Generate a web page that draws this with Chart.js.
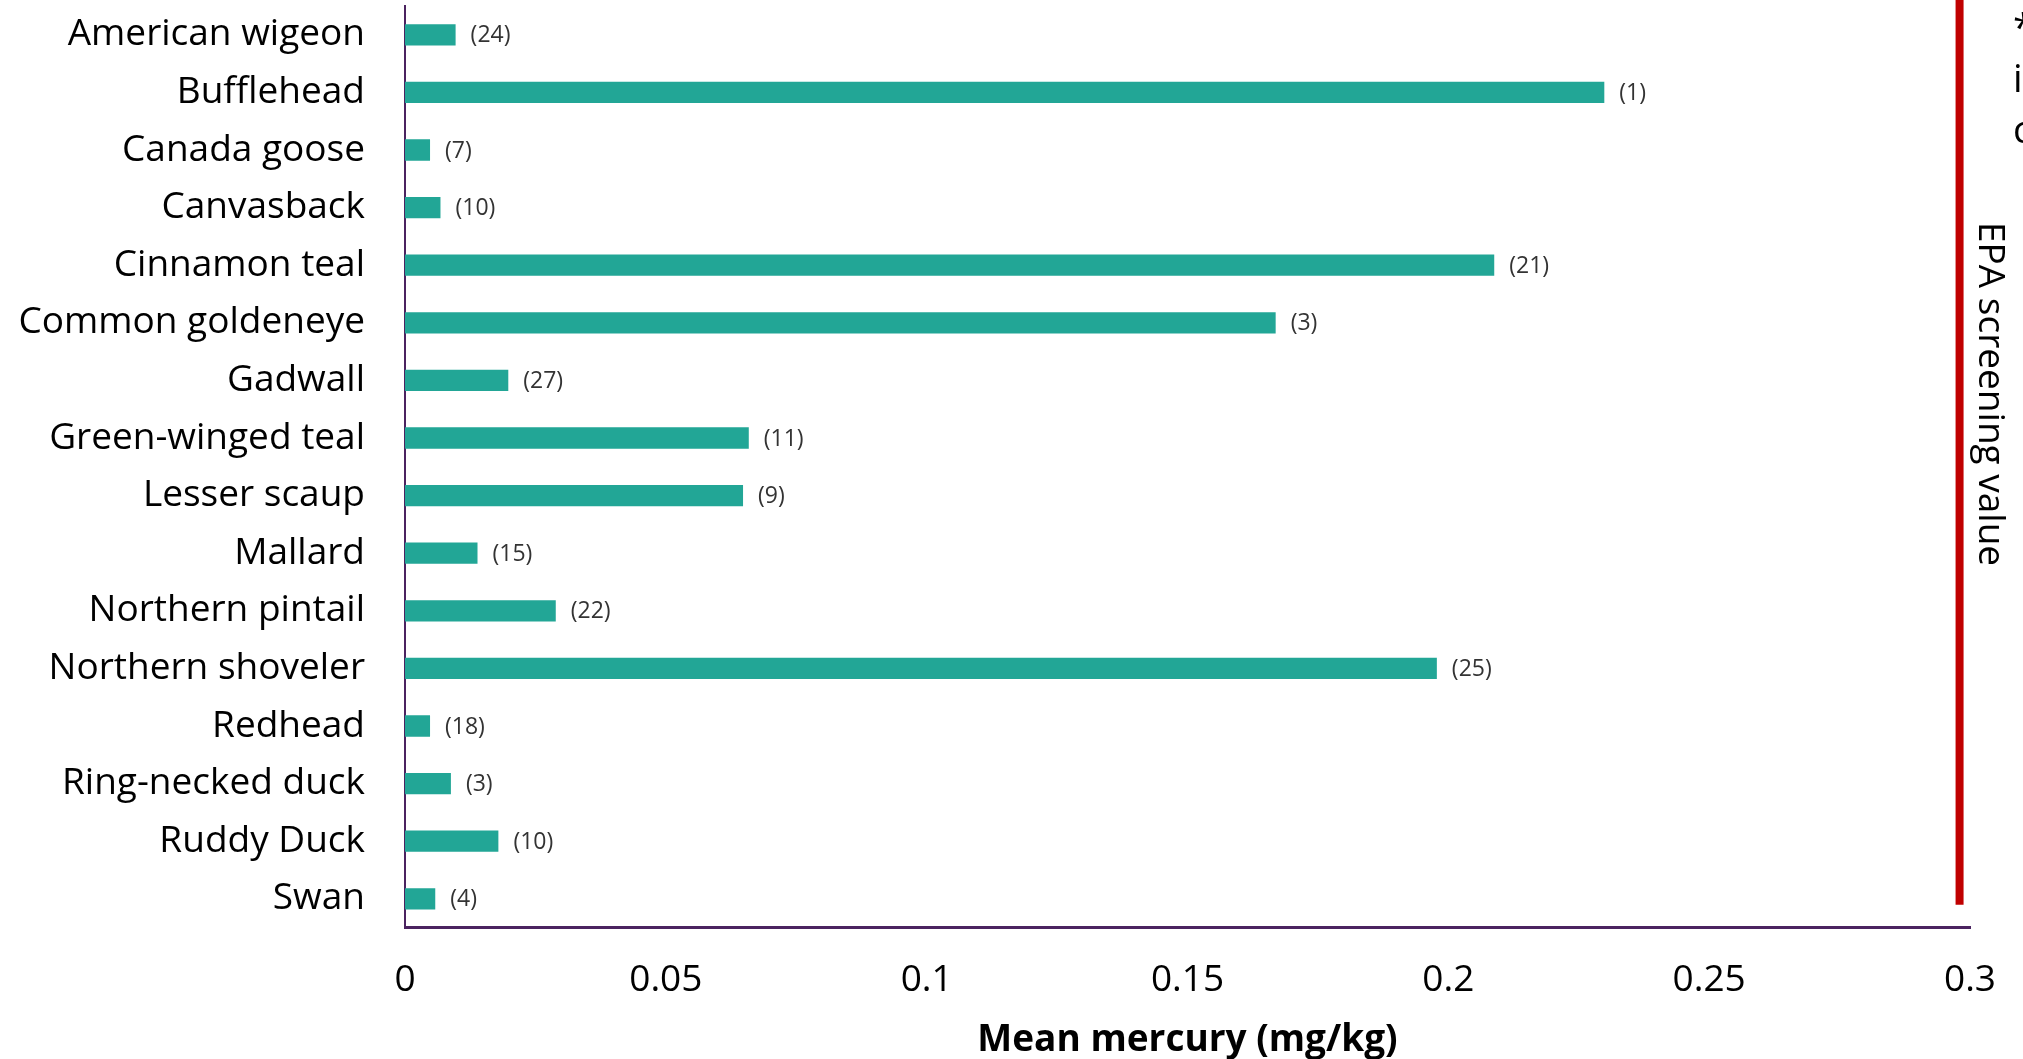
<!DOCTYPE html>
<html>
<head>
<meta charset="utf-8">
<script src="https://cdn.jsdelivr.net/npm/chart.js@4.4.0/dist/chart.umd.min.js"></script>
<style>
  body { margin: 0; background: #fff; }
  canvas { display: block; }
</style>
</head>
<body>
<canvas id="mercuryChart" width="2023" height="1059"></canvas>
<script>
const species = [
    'American wigeon', 'Bufflehead', 'Canada goose', 'Canvasback',
    'Cinnamon teal', 'Common goldeneye', 'Gadwall', 'Green-winged teal',
    'Lesser scaup', 'Mallard', 'Northern pintail', 'Northern shoveler',
    'Redhead', 'Ring-necked duck', 'Ruddy Duck', 'Swan'
];
const meanMercury = [
    0.0097, 0.2299, 0.0048, 0.0068,
    0.2088, 0.1669, 0.0198, 0.0659,
    0.0648, 0.0139, 0.0289, 0.1978,
    0.0048, 0.0088, 0.0179, 0.0058
];
const sampleSizes = [24, 1, 7, 10, 21, 3, 27, 11, 9, 15, 22, 25, 18, 3, 10, 4];
const xTickLabels = ['0', '0.05', '0.1', '0.15', '0.2', '0.25', '0.3'];
const screeningValue = 0.298;
const noteLines = ['*', 'i', 'c'];   // cut off at the right edge in the original

const FONT = "'Open Sans', 'Noto Sans', sans-serif";
const AXIS_COLOR = '#4b2360';

// draws "(n)" after every bar, the EPA line and its label
const annotations = {
    id: 'annotations',
    afterDatasetsDraw(chart) {
        const { ctx, scales: { x, y } } = chart;
        const bars = chart.getDatasetMeta(0).data;

        ctx.save();
        ctx.font = '23px ' + FONT;
        ctx.fillStyle = '#333';
        ctx.textAlign = 'left';
        ctx.textBaseline = 'middle';
        bars.forEach((bar, i) => {
            ctx.fillText('(' + sampleSizes[i] + ')', bar.x + 15, bar.y + 1);
        });

        // EPA screening value
        const redX = x.getPixelForValue(screeningValue);
        const lineBottom = y.getPixelForValue(species.length - 1) + 6;
        ctx.strokeStyle = '#c00000';
        ctx.lineWidth = 8;
        ctx.beginPath();
        ctx.moveTo(redX, 0);
        ctx.lineTo(redX, lineBottom);
        ctx.stroke();

        ctx.translate(redX + 19, chart.chartArea.top + 216);
        ctx.rotate(Math.PI / 2);
        ctx.font = '37px ' + FONT;
        ctx.fillStyle = '#000';
        ctx.textBaseline = 'alphabetic';
        ctx.fillText('EPA screening value', 0, 0);
        ctx.restore();

        ctx.save();
        ctx.font = '38px ' + FONT;
        ctx.fillStyle = '#000';
        ctx.textAlign = 'left';
        ctx.textBaseline = 'alphabetic';
        noteLines.forEach((t, i) => {
            ctx.fillText(t, 2013, 41 + i * 51);
        });
        ctx.restore();
    }
};

document.addEventListener("DOMContentLoaded", function () {
    const ctx = document.getElementById('mercuryChart').getContext('2d');

    new Chart(ctx, {
        type: 'bar',
        data: {
            labels: species,
            datasets: [{
                label: 'Mean mercury',
                data: meanMercury,
                backgroundColor: '#22a696',
                borderWidth: 0,
                barPercentage: 0.37,
                categoryPercentage: 1
            }]
        },
        options: {
            indexAxis: 'y',
            responsive: false,
            devicePixelRatio: 1,
            animation: false,
            layout: { padding: { top: 6, right: 53, left: 0, bottom: 0 } },
            plugins: {
                legend: { display: false },
                tooltip: { enabled: false }
            },
            scales: {
                x: {
                    min: 0,
                    max: 0.3,
                    grid: { display: false, drawTicks: false },
                    border: { color: AXIS_COLOR, width: 3 },
                    ticks: {
                        stepSize: 0.05,
                        padding: 31,
                        color: '#000',
                        font: { family: FONT, size: 37 },
                        maxRotation: 0,
                        callback: (value, index) => xTickLabels[index]
                    },
                    title: {
                        display: true,
                        text: 'Mean mercury (mg/kg)',
                        color: '#000',
                        font: { family: FONT, size: 37, weight: 'bold', lineHeight: 1 },
                        padding: { top: -12, bottom: 0 }
                    },
                    afterFit(scale) {
                        scale.paddingLeft = 0;
                        scale.paddingRight = 0;
                    }
                },
                y: {
                    grid: { display: false, drawTicks: false },
                    border: { color: AXIS_COLOR, width: 2 },
                    ticks: {
                        padding: 40,
                        color: '#000',
                        font: { family: FONT, size: 37 }
                    },
                    afterFit(scale) {
                        scale.width = 405;
                        scale.paddingTop = 0;
                        scale.paddingBottom = 0;
                    }
                }
            }
        },
        plugins: [annotations]
    });
});
</script>
</body>
</html>
